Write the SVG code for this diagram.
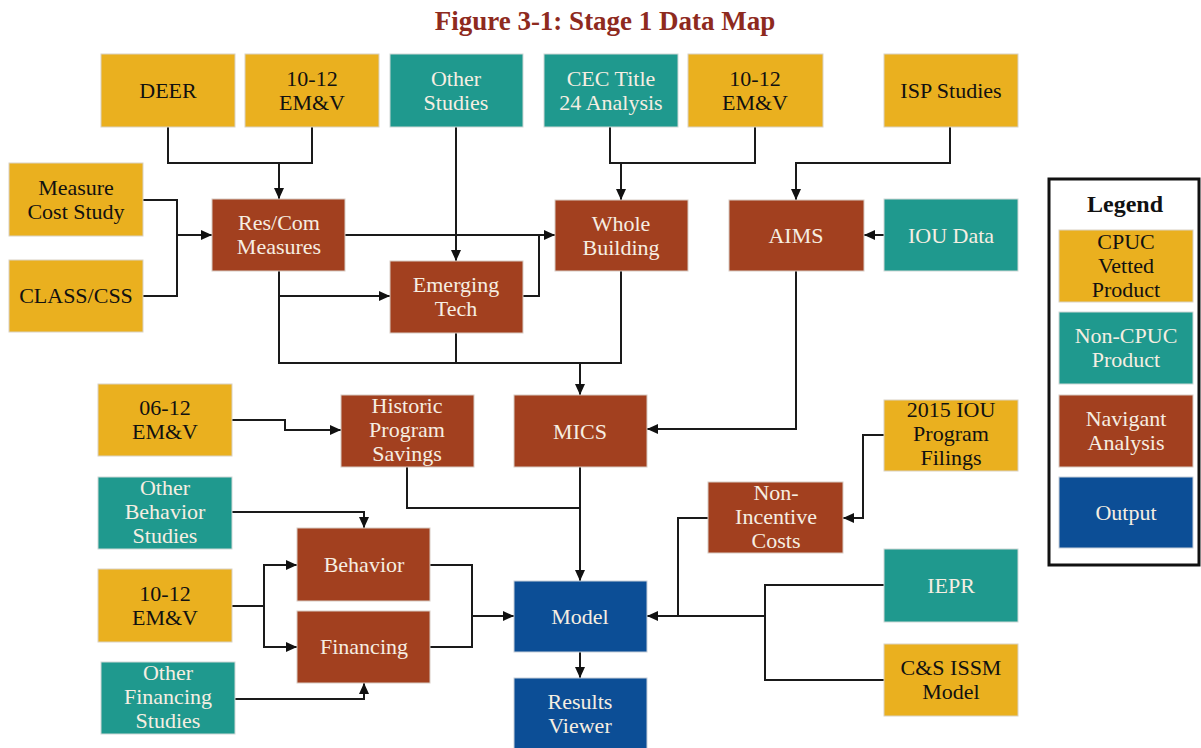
<svg xmlns="http://www.w3.org/2000/svg" width="1201" height="748" viewBox="0 0 1201 748">
<defs>
<style>
.g{fill:#EAB01F;stroke:#d9d2c4;stroke-width:1}
.t{fill:#1F998E;stroke:#cfd8d6;stroke-width:1}
.r{fill:#A2401F;stroke:#d8ccc4;stroke-width:1}
.b{fill:#0C4E96;stroke:#c8d0da;stroke-width:1}
text{font-family:"Liberation Serif","Times New Roman",serif;font-size:22px;text-anchor:middle}
.dk{fill:#111}
.lt{fill:#F6EEE2}
.title{font-size:27px;font-weight:bold;fill:#8E2A1E}
.leg{font-size:24px;font-weight:bold;fill:#111}
.c path{fill:none;stroke:#1a1a1a;stroke-width:2}
.c path.a{marker-end:url(#ah)}
</style>
<marker id="ah" markerUnits="userSpaceOnUse" markerWidth="12" markerHeight="12" refX="11" refY="6" orient="auto">
<path d="M0,1 L11,6 L0,11 Z" fill="#111"/>
</marker>
</defs>
<rect width="1201" height="748" fill="#fff"/>
<text class="title" x="605" y="30">Figure 3-1: Stage 1 Data Map</text>

<g class="c">
<path d="M168,127 V163 H312 V127"/>
<path class="a" d="M279,163 V199"/>
<path d="M143,200 H177 V296 H143"/>
<path class="a" d="M177,235 H212"/>
<path class="a" d="M456,127 V261"/>
<path class="a" d="M345,235 H555"/>
<path d="M523,296 H539 V235"/>
<path d="M279,271 V363 H621 V271"/>
<path class="a" d="M279,296 H390"/>
<path d="M456,333 V363"/>
<path class="a" d="M580,363 V395"/>
<path d="M610,127 V163 H755 V127"/>
<path class="a" d="M621,163 V200"/>
<path class="a" d="M950,127 V163 H796 V200"/>
<path class="a" d="M884,235 H864"/>
<path class="a" d="M796,271 V429 H647"/>
<path class="a" d="M232,420 H285 V430 H341"/>
<path d="M407,467 V508 H580"/>
<path class="a" d="M580,467 V581"/>
<path class="a" d="M232,512 H364 V528"/>
<path d="M232,606 H264"/>
<path class="a" d="M264,606 V565 H297"/>
<path class="a" d="M264,606 V647 H297"/>
<path d="M430,565 H472 V647 H430"/>
<path class="a" d="M472,616 H514"/>
<path class="a" d="M235,699 H364 V683"/>
<path class="a" d="M580,652 V678"/>
<path class="a" d="M884,435 H863 V518 H843"/>
<path d="M708,518 H678 V616"/>
<path d="M884,585 H765 V680 H884"/>
<path class="a" d="M765,616 H647"/>
</g>

<g id="deer"><rect class="g" x="101" y="54" width="134" height="73"/><text class="dk" x="168" y="98">DEER</text></g>
<g id="emv1"><rect class="g" x="245" y="54" width="134" height="73"/><text class="dk" x="312" y="86">10-12</text><text class="dk" x="312" y="110">EM&amp;V</text></g>
<g id="other-studies"><rect class="t" x="390" y="54" width="133" height="73"/><text class="lt" x="456" y="86">Other</text><text class="lt" x="456" y="110">Studies</text></g>
<g id="cec"><rect class="t" x="544" y="54" width="134" height="73"/><text class="lt" x="611" y="86">CEC Title</text><text class="lt" x="611" y="110">24 Analysis</text></g>
<g id="emv2"><rect class="g" x="688" y="54" width="135" height="73"/><text class="dk" x="755" y="86">10-12</text><text class="dk" x="755" y="110">EM&amp;V</text></g>
<g id="isp"><rect class="g" x="884" y="54" width="134" height="73"/><text class="dk" x="951" y="98">ISP Studies</text></g>

<g id="mcs"><rect class="g" x="9" y="163" width="134" height="73"/><text class="dk" x="76" y="195">Measure</text><text class="dk" x="76" y="219">Cost Study</text></g>
<g id="class"><rect class="g" x="9" y="260" width="134" height="72"/><text class="dk" x="76" y="303">CLASS/CSS</text></g>
<g id="rescom"><rect class="r" x="212" y="199" width="133" height="72"/><text class="lt" x="279" y="230">Res/Com</text><text class="lt" x="279" y="254">Measures</text></g>
<g id="emerging"><rect class="r" x="390" y="261" width="133" height="72"/><text class="lt" x="456" y="292">Emerging</text><text class="lt" x="456" y="316">Tech</text></g>
<g id="whole"><rect class="r" x="555" y="200" width="133" height="71"/><text class="lt" x="621" y="231">Whole</text><text class="lt" x="621" y="255">Building</text></g>
<g id="aims"><rect class="r" x="729" y="200" width="135" height="71"/><text class="lt" x="796" y="243">AIMS</text></g>
<g id="ioudata"><rect class="t" x="884" y="199" width="134" height="72"/><text class="lt" x="951" y="243">IOU Data</text></g>

<g id="emv0612"><rect class="g" x="98" y="384" width="134" height="72"/><text class="dk" x="165" y="415">06-12</text><text class="dk" x="165" y="439">EM&amp;V</text></g>
<g id="historic"><rect class="r" x="341" y="395" width="133" height="72"/><text class="lt" x="407" y="413">Historic</text><text class="lt" x="407" y="437">Program</text><text class="lt" x="407" y="461">Savings</text></g>
<g id="mics"><rect class="r" x="514" y="395" width="133" height="72"/><text class="lt" x="580" y="439">MICS</text></g>
<g id="iou2015"><rect class="g" x="884" y="400" width="134" height="71"/><text class="dk" x="951" y="417">2015 IOU</text><text class="dk" x="951" y="441">Program</text><text class="dk" x="951" y="465">Filings</text></g>
<g id="nonincentive"><rect class="r" x="708" y="482" width="135" height="71"/><text class="lt" x="776" y="500">Non-</text><text class="lt" x="776" y="524">Incentive</text><text class="lt" x="776" y="548">Costs</text></g>

<g id="otherbehavior"><rect class="t" x="98" y="477" width="134" height="72"/><text class="lt" x="165" y="495">Other</text><text class="lt" x="165" y="519">Behavior</text><text class="lt" x="165" y="543">Studies</text></g>
<g id="behavior"><rect class="r" x="297" y="528" width="133" height="73"/><text class="lt" x="364" y="572">Behavior</text></g>
<g id="emv3"><rect class="g" x="98" y="569" width="134" height="73"/><text class="dk" x="165" y="601">10-12</text><text class="dk" x="165" y="625">EM&amp;V</text></g>
<g id="financing"><rect class="r" x="297" y="611" width="133" height="72"/><text class="lt" x="364" y="654">Financing</text></g>
<g id="otherfinancing"><rect class="t" x="101" y="662" width="134" height="72"/><text class="lt" x="168" y="680">Other</text><text class="lt" x="168" y="704">Financing</text><text class="lt" x="168" y="728">Studies</text></g>
<g id="model"><rect class="b" x="514" y="581" width="133" height="71"/><text class="lt" x="580" y="624">Model</text></g>
<g id="results"><rect class="b" x="514" y="678" width="133" height="72"/><text class="lt" x="580" y="709">Results</text><text class="lt" x="580" y="733">Viewer</text></g>
<g id="iepr"><rect class="t" x="884" y="549" width="134" height="73"/><text class="lt" x="951" y="593">IEPR</text></g>
<g id="cs"><rect class="g" x="884" y="644" width="134" height="72"/><text class="dk" x="951" y="675">C&amp;S ISSM</text><text class="dk" x="951" y="699">Model</text></g>

<g id="legend">
<rect x="1049" y="179" width="150" height="386" fill="#fff" stroke="#111" stroke-width="3"/>
<text class="leg" x="1125" y="212">Legend</text>
<rect class="g" x="1059" y="230" width="134" height="72"/><text class="dk" x="1126" y="249">CPUC</text><text class="dk" x="1126" y="273">Vetted</text><text class="dk" x="1126" y="297">Product</text>
<rect class="t" x="1059" y="312" width="134" height="72"/><text class="lt" x="1126" y="343">Non-CPUC</text><text class="lt" x="1126" y="367">Product</text>
<rect class="r" x="1059" y="395" width="134" height="72"/><text class="lt" x="1126" y="426">Navigant</text><text class="lt" x="1126" y="450">Analysis</text>
<rect class="b" x="1059" y="477" width="134" height="71"/><text class="lt" x="1126" y="520">Output</text>
</g>
</svg>
